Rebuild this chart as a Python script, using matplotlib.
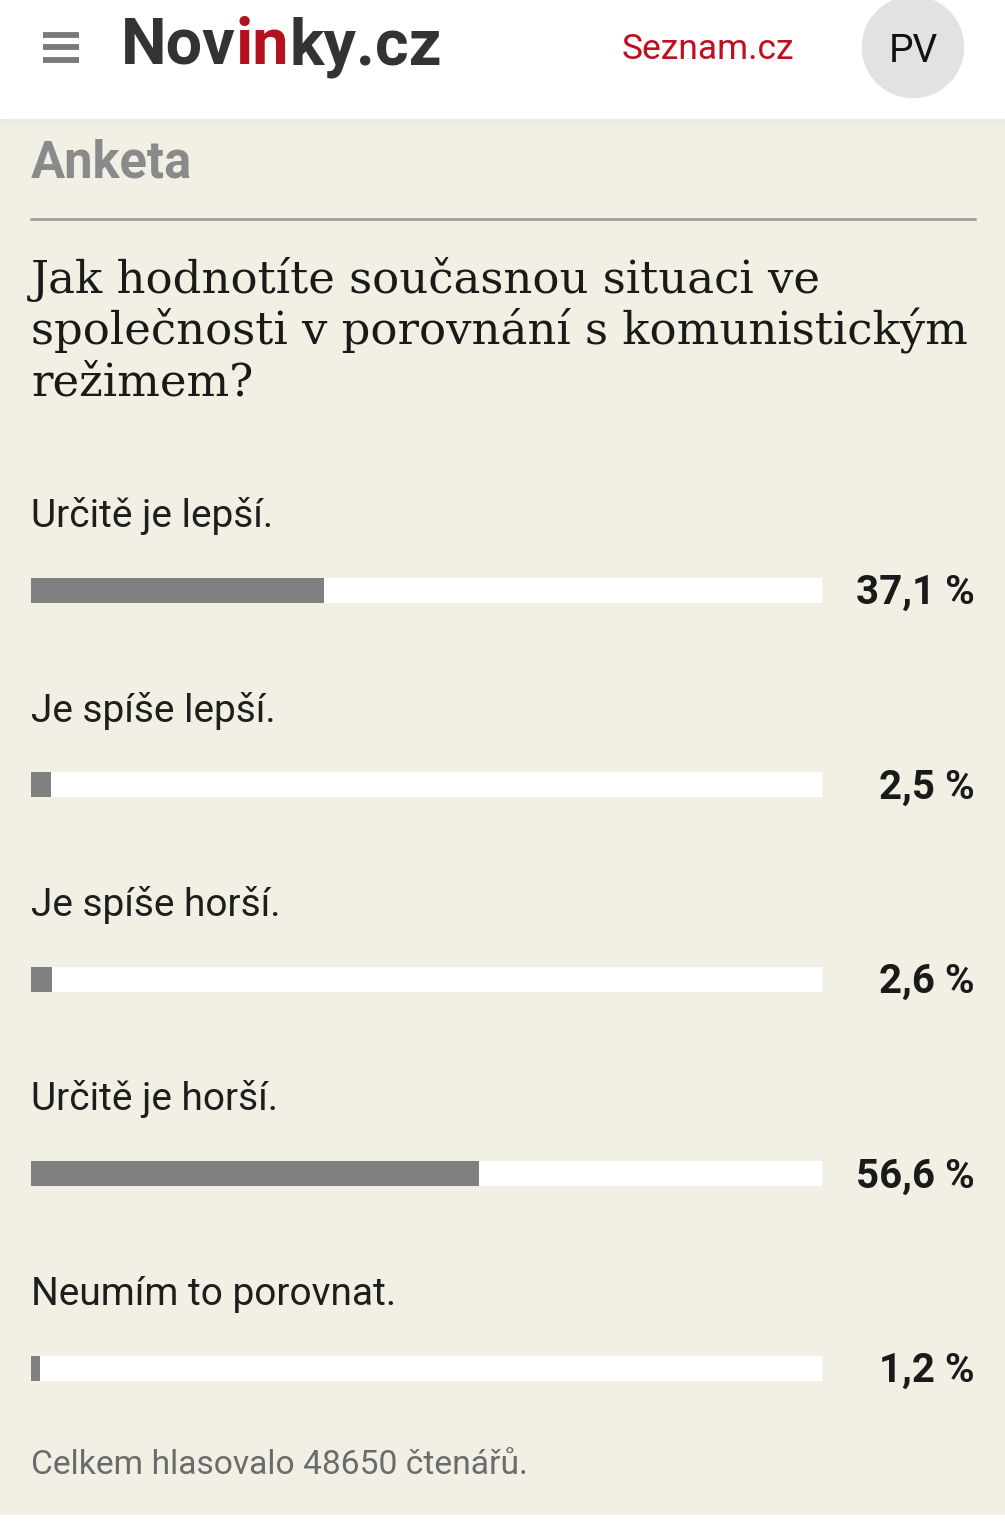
#!/usr/bin/env python3

import matplotlib
matplotlib.use('Agg')
import matplotlib.pyplot as plt
from matplotlib.patches import Rectangle, Ellipse
from matplotlib.transforms import blended_transform_factory

# Poll data
answers = ["Určitě je lepší.", "Je spíše lepší.", "Je spíše horší.",
           "Určitě je horší.", "Neumím to porovnat."]
shares = [37.1, 2.5, 2.6, 56.6, 1.2]
share_labels = ["37,1 %", "2,5 %", "2,6 %", "56,6 %", "1,2 %"]
total_votes = 48650

W, H = 1005, 1536
BG = '#f2f0e4'
SANS = ['Roboto', 'DejaVu Sans']
SERIF = ['DejaVu Serif', 'Liberation Serif']

fig = plt.figure(figsize=(W / 100, H / 100), dpi=100, facecolor=BG)
renderer = fig.canvas.get_renderer()

# Full-figure pixel canvas for page decoration
page = fig.add_axes([0, 0, 1, 1], zorder=0)
page.set_xlim(0, W)
page.set_ylim(H, 0)
page.axis('off')

# Header band + soft shadow
page.add_patch(Rectangle((0, 0), W, 118, color='white', zorder=2))
for i, a in enumerate([0.10, 0.07, 0.04, 0.02]):
    page.add_patch(Rectangle((0, 118 + i * 3), W, 3, color='#b0ad9f',
                             alpha=a, lw=0, zorder=1))
page.add_patch(Rectangle((0, 1515), W, H - 1515, color='white', zorder=2))

# Hamburger
for y in (35, 47, 60):
    page.plot([43, 79], [y, y], color='#7a7a7a', lw=4.2,
              solid_capstyle='butt', zorder=3)

# Logo "Novinky.cz" with red "in"
logo = (("Nov", '#333333'), ("in", '#b3121c'), ("ky.cz", '#333333'))
x = 121
for part, col in logo:
    t = page.text(x, 64, part, fontsize=46.5, fontweight='bold', color=col,
                  family=SANS, va='baseline', ha='left', zorder=3)
    x += t.get_window_extent(renderer).width

page.text(622, 59, "Seznam.cz", fontsize=25.5, color='#c20e1f', family=SANS,
          va='baseline', ha='left', zorder=3)
page.add_patch(Ellipse((913, 47), 101, 101, color='#e2e2e2', zorder=3))
page.text(913, 62, "PV", fontsize=28, color='#111111', family=SANS,
          va='baseline', ha='center', zorder=4)

# Section heading
page.text(31, 177, "Anketa", fontsize=36.5, fontweight='bold',
          color='#8a8a8a', family=SANS, va='baseline', ha='left')
page.plot([31, 975], [219, 219], color='#9a9a98', lw=1.8)

# Question, sized so the longest line runs to ~970 px
question = ["Jak hodnotíte současnou situaci ve",
            "společnosti v porovnání s komunistickým",
            "režimem?"]
probe = page.text(0, 0, question[1], fontsize=30, family=SERIF)
qsize = 30 * 939 / probe.get_window_extent(renderer).width
probe.remove()
for i, line in enumerate(question):
    page.text(31, 293 + i * 51, line, fontsize=qsize, color='#1a1a1a',
              family=SERIF, va='baseline', ha='left')

# Footer
page.text(31, 1474, f"Celkem hlasovalo {total_votes} čtenářů.", fontsize=24.2,
          color='#6b6b6b', family=SANS, va='baseline', ha='left')

# Bars axes: track from x=31 to x=822, bar centres 590 .. 1368 px
step = (1368 - 590) / (len(answers) - 1)
top = 590 - step / 2
bottom = 1368 + step / 2
ax = fig.add_axes([31 / W, 1 - bottom / H, (822 - 31) / W, (bottom - top) / H],
                  zorder=1)
ax.patch.set_alpha(0)
ax.set_xlim(0, 100)
ax.set_ylim(len(answers) - 0.5, -0.5)
ax.axis('off')

ypos = list(range(len(answers)))
bar_h = 25 / step
ax.barh(ypos, [100] * len(answers), height=bar_h, color='white', lw=0)
ax.barh(ypos, shares, height=bar_h, color='#808080', lw=0)

px = 1 / step
right = blended_transform_factory(fig.transFigure, ax.transData)
for y, ans, lab in zip(ypos, answers, share_labels):
    ax.text(0, y - 63 * px, ans, fontsize=28, color='#1e1e1e', family=SANS,
            va='baseline', ha='left')
    ax.text(975 / W, y + 14 * px, lab, fontsize=29, fontweight='bold',
            color='#1a1a1a', family=SANS, va='baseline', ha='right',
            transform=right)

fig.savefig('out.png', dpi=100, facecolor=BG)
